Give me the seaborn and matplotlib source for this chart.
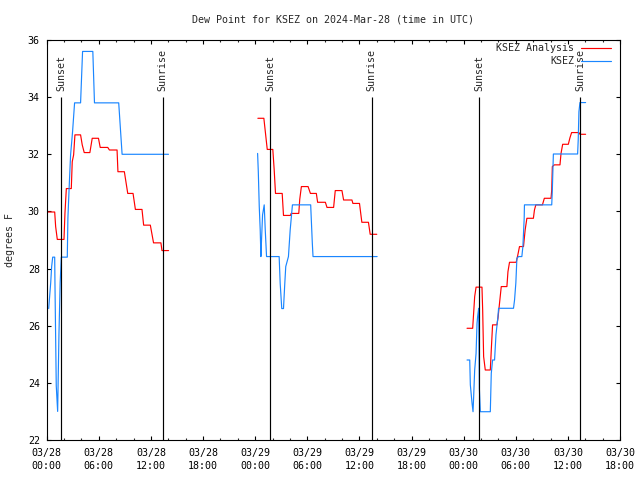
import matplotlib
matplotlib.use("Agg")
import matplotlib.pyplot as plt
import seaborn as sns
import pandas as pd
from matplotlib.lines import Line2D

# ---------------- data (hours since 2024-03-28 00:00 UTC, degrees F) ----------------
an1_h = [0.08, 0.92, 1.03, 1.22, 1.99, 2.10, 2.26, 2.83, 2.94, 3.10, 3.25, 3.90, 4.09, 4.32,
         4.97, 5.24, 5.96, 6.16, 7.03, 7.22, 8.10, 8.20, 8.94, 9.33, 9.94, 10.21, 10.97,
         11.16, 11.93, 12.30, 13.15, 13.27, 14.03]
an1_v = [29.98, 29.98, 29.47, 29.02, 29.02, 29.93, 30.80, 30.80, 31.74, 31.98, 32.68, 32.68,
         32.33, 32.06, 32.06, 32.56, 32.56, 32.24, 32.24, 32.15, 32.15, 31.39, 31.39, 30.63,
         30.63, 30.07, 30.07, 29.52, 29.52, 28.90, 28.90, 28.63, 28.63]

ob1_h = [0.23, 0.46, 0.57, 0.69, 0.92, 0.95, 1.10, 1.26, 1.41, 1.55, 1.68, 2.37, 2.44, 2.58,
         2.75, 2.98, 3.21, 3.90, 4.13, 5.31, 5.50, 8.29, 8.68, 14.02]
ob1_v = [26.6, 27.5, 28.07, 28.4, 28.4, 27.5, 23.9, 23.0, 25.7, 27.5, 28.4, 28.4, 29.76, 30.8,
         31.98, 32.8, 33.8, 33.8, 35.6, 35.6, 33.8, 33.8, 32.0, 32.0]

an2_h = [24.31, 25.00, 25.19, 25.39, 26.03, 26.19, 26.34, 27.11, 27.26, 28.06, 28.14, 29.02,
         29.13, 29.32, 30.09, 30.36, 31.04, 31.19, 32.08, 32.27, 33.03, 33.22, 33.99, 34.18,
         35.14, 35.25, 36.01, 36.28, 37.04, 37.24, 38.00]
an2_v = [33.26, 33.26, 32.73, 32.17, 32.17, 31.45, 30.63, 30.63, 29.86, 29.86, 29.93, 29.93,
         30.42, 30.87, 30.87, 30.63, 30.63, 30.32, 30.32, 30.14, 30.14, 30.73, 30.73, 30.40,
         30.40, 30.28, 30.28, 29.62, 29.62, 29.20, 29.20]

ob2_h = [24.28, 24.36, 24.47, 24.58, 24.66, 24.74, 24.85, 25.04, 25.16, 25.31, 26.76, 26.88,
         27.06, 27.26, 27.41, 27.52, 27.83, 28.03, 28.29, 30.39, 30.58, 30.66, 38.04]
ob2_v = [32.03, 31.39, 30.17, 29.35, 28.42, 29.06, 29.88, 30.23, 29.35, 28.42, 28.42, 27.48,
         26.60, 26.60, 27.48, 28.07, 28.42, 29.35, 30.23, 30.23, 28.88, 28.42, 28.42]

an3_h = [48.39, 49.04, 49.16, 49.27, 49.43, 50.11, 50.19, 50.30, 50.49, 51.07, 51.18, 51.33,
         51.83, 51.95, 52.21, 52.33, 52.98, 53.10, 53.28, 54.05, 54.24, 54.43, 54.89, 55.08,
         55.28, 56.03, 56.15, 56.31, 57.07, 57.29, 58.06, 58.14, 58.21, 58.44, 59.09, 59.21,
         59.40, 60.05, 60.24, 60.43, 61.27, 61.39, 62.04]
an3_v = [25.91, 25.91, 26.49, 27.02, 27.35, 27.35, 26.55, 24.92, 24.45, 24.45, 25.15, 26.03,
         26.03, 26.26, 27.02, 27.37, 27.37, 27.89, 28.22, 28.22, 28.48, 28.77, 28.77, 29.35,
         29.76, 29.76, 30.05, 30.23, 30.23, 30.46, 30.46, 30.75, 31.57, 31.63, 31.63, 32.03,
         32.35, 32.35, 32.58, 32.76, 32.76, 32.70, 32.70]

ob3_h = [48.39, 48.70, 48.77, 48.97, 49.08, 49.15, 49.27, 49.43, 49.54, 49.61, 49.73, 49.81,
         49.92, 51.07, 51.18, 51.33, 51.56, 51.72, 51.95, 52.02, 53.74, 53.86, 54.01, 54.13,
         54.32, 54.70, 54.82, 54.97, 55.00, 58.14, 58.21, 58.33, 61.12, 61.19, 61.27, 61.39,
         62.04]
ob3_v = [24.80, 24.80, 23.93, 23.28, 22.99, 23.50, 24.45, 25.03, 26.08, 26.32, 26.61, 23.80,
         22.99, 22.99, 24.33, 24.80, 24.80, 25.68, 26.32, 26.61, 26.61, 26.90, 27.50, 28.36,
         28.42, 28.42, 28.77, 29.76, 30.23, 30.23, 30.75, 32.01, 32.01, 32.50, 33.49, 33.81,
         33.81]

sunset_h = [1.68, 25.73, 49.78]
sunrise_h = [13.35, 37.40, 61.45]

xtick_h = [0, 6, 12, 18, 24, 30, 36, 42, 48, 54, 60, 66]
xtick_labels = ["03/28\n00:00", "03/28\n06:00", "03/28\n12:00", "03/28\n18:00",
                "03/29\n00:00", "03/29\n06:00", "03/29\n12:00", "03/29\n18:00",
                "03/30\n00:00", "03/30\n06:00", "03/30\n12:00", "03/30\n18:00"]
ytick_vals = [22, 24, 26, 28, 30, 32, 34, 36]

series_names = ["KSEZ Analysis", "KSEZ"]
colors = {"KSEZ Analysis": "#ff0000", "KSEZ": "#1a86ff"}

# ---------------- build table ----------------
rows = []
for name, seg, hs, vs in [
    ("KSEZ Analysis", "a1", an1_h, an1_v), ("KSEZ Analysis", "a2", an2_h, an2_v),
    ("KSEZ Analysis", "a3", an3_h, an3_v),
    ("KSEZ", "o1", ob1_h, ob1_v), ("KSEZ", "o2", ob2_h, ob2_v), ("KSEZ", "o3", ob3_h, ob3_v),
]:
    for h, v in zip(hs, vs):
        rows.append({"series": name, "seg": seg, "hour": h, "dewpoint": v})
df = pd.DataFrame(rows)

# ---------------- plot ----------------
sns.set_style("ticks")
FONT = "DejaVu Sans Mono"
plt.rcParams["font.family"] = [FONT]
fs = 7.2

fig = plt.figure(figsize=(6.4, 4.8), dpi=100)
ax = fig.add_axes([46.7 / 640, 40 / 480, (620 - 46.7) / 640, 400 / 480])

sns.lineplot(data=df, x="hour", y="dewpoint", hue="series", hue_order=series_names,
             units="seg", estimator=None, sort=False, palette=colors, linewidth=0.85,
             legend=False, ax=ax)

ymin, ymax = 22, 36
for h in sunset_h:
    ax.vlines(h, ymin, 34.0, color="black", linewidth=0.85)
    ax.text(h, 34.2, "Sunset", rotation=90, ha="center", va="bottom", fontsize=fs)
for h in sunrise_h:
    ax.vlines(h, ymin, 34.0, color="black", linewidth=0.85)
    ax.text(h, 34.2, "Sunrise", rotation=90, ha="center", va="bottom", fontsize=fs)

ax.set_xlim(0, 66)
ax.set_ylim(ymin, ymax)
ax.set_xticks(xtick_h)
ax.set_xticklabels(xtick_labels, fontsize=fs)
ax.set_xticks(list(range(0, 67, 2)), minor=True)
ax.set_yticks(ytick_vals)
ax.set_yticklabels([str(v) for v in ytick_vals], fontsize=fs)
for lab in ax.get_xticklabels():
    lab.set_linespacing(1.35)
ax.tick_params(axis="both", which="major", direction="in", length=3.2, width=0.8,
               top=True, right=True, color="black", labelcolor="black")
ax.tick_params(axis="x", which="major", pad=6)
ax.tick_params(axis="y", which="major", pad=5)
ax.tick_params(axis="x", which="minor", direction="in", length=1.7, width=0.8,
               top=True, bottom=True)
ax.set_xlabel("")
ax.set_ylabel("")
for sp in ax.spines.values():
    sp.set_visible(True)
    sp.set_color("black")
    sp.set_linewidth(0.8)

handles = [Line2D([], [], color=colors[n], linewidth=0.85) for n in series_names]
ax.legend(handles, series_names, loc="upper right",
          bbox_to_anchor=(611 / 640, 1 - 43 / 480), bbox_transform=fig.transFigure,
          frameon=False, markerfirst=False, handlelength=3.0, handletextpad=0.7,
          labelspacing=0.3, borderpad=0, borderaxespad=0, fontsize=fs)

fig.text(333 / 640, 1 - 20 / 480, "Dew Point for KSEZ on 2024-Mar-28 (time in UTC)",
         ha="center", va="center", fontsize=fs)
fig.text(10 / 640, 0.5, "degrees F", rotation=90, ha="center", va="center", fontsize=fs)

fig.savefig("out.png", dpi=100, facecolor="white")
